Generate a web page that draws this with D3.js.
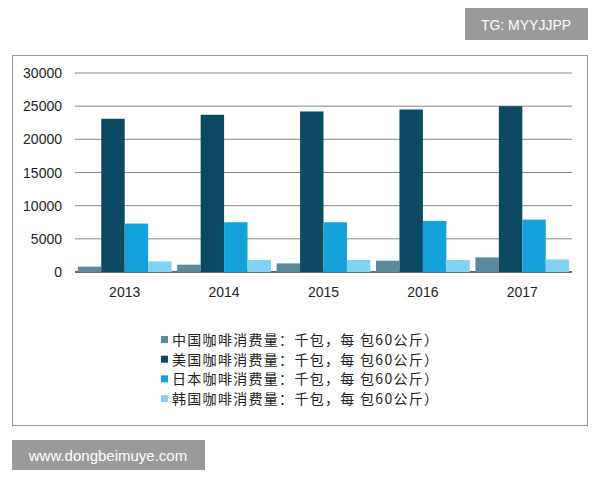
<!DOCTYPE html>
<html><head><meta charset="utf-8">
<script src="https://cdn.jsdelivr.net/npm/d3@7"></script>
<style>body{margin:0;background:#fff;font-family:"Noto Sans CJK SC","Liberation Sans",sans-serif}</style>
</head><body><div id="chart"></div>
<script>
var years = ["2013", "2014", "2015", "2016", "2017"];
var seriesNames = ["中国咖啡消费量：千包，每 包60公斤）", "美国咖啡消费量：千包，每 包60公斤）", "日本咖啡消费量：千包，每 包60公斤）", "韩国咖啡消费量：千包，每 包60公斤）"];
var china = [800, 1100, 1300, 1700, 2200];
var usa = [23100, 23700, 24200, 24500, 25000];
var japan = [7300, 7500, 7500, 7700, 7900];
var korea = [1600, 1800, 1800, 1800, 1900];
var yTicks = [0, 5000, 10000, 15000, 20000, 25000, 30000];
var colors = ["#5a8a9c", "#0c4a64", "#13a2dc", "#7fd2f0"];
var series = [china, usa, japan, korea];

var svg = d3.select("#chart").append("svg").attr("width", 600).attr("height", 480);

// outer frame
svg.append("rect").attr("x", 12.5).attr("y", 55.5).attr("width", 575).attr("height", 370)
  .attr("fill", "none").attr("stroke", "#999");

var x = d3.scaleBand().domain(years).range([75, 572]);
var x1 = d3.scaleBand().domain(d3.range(4)).range([0, x.bandwidth()]).paddingOuter(0.12);
var y = d3.scaleLinear().domain([0, 30000]).range([272, 73]);

var grid = svg.append("g");
yTicks.forEach(function(t) {
  grid.append("line").attr("x1", 75).attr("x2", 572).attr("y1", y(t)).attr("y2", y(t))
    .attr("stroke", t === 0 ? "#333" : "#888").attr("stroke-width", t === 0 ? 1.5 : 1);
  grid.append("text").attr("x", 62).attr("y", y(t) + 5).attr("text-anchor", "end")
    .attr("font-size", 14).attr("font-family", "Liberation Sans").attr("fill", "#222").text(t);
});

series.forEach(function(vals, i) {
  svg.append("g").selectAll("rect").data(vals).enter().append("rect")
    .attr("x", function(d, j) { return x(years[j]) + x1(i); })
    .attr("width", x1.bandwidth())
    .attr("y", function(d) { return y(d); })
    .attr("height", function(d) { return y(0) - y(d); })
    .attr("fill", colors[i]);
});

svg.append("g").selectAll("text").data(years).enter().append("text")
  .attr("x", function(d) { return x(d) + x.bandwidth() / 2; }).attr("y", 297)
  .attr("text-anchor", "middle").attr("font-size", 14).attr("font-family", "Liberation Sans")
  .attr("fill", "#222").text(function(d) { return d; });

var legend = svg.append("g");
seriesNames.forEach(function(n, i) {
  var ly = 340 + i * 19.7;
  legend.append("rect").attr("x", 161).attr("y", ly - 4).attr("width", 7).attr("height", 7).attr("fill", colors[i]);
  legend.append("text").attr("x", 172).attr("y", ly + 5).attr("font-size", 14)
    .attr("letter-spacing", 1.3).attr("fill", "#222").text(n);
});

// watermarks
svg.append("rect").attr("x", 465).attr("y", 8).attr("width", 123).attr("height", 32).attr("fill", "#9a9a9a");
svg.append("text").attr("x", 526).attr("y", 30).attr("text-anchor", "middle").attr("font-size", 14)
  .attr("fill", "#fff").attr("font-family", "Liberation Sans").text("TG: MYYJJPP");
svg.append("rect").attr("x", 12).attr("y", 440).attr("width", 193).attr("height", 30).attr("fill", "#9a9a9a");
svg.append("text").attr("x", 108).attr("y", 461).attr("text-anchor", "middle").attr("font-size", 15)
  .attr("fill", "#fff").attr("font-family", "Liberation Sans").text("www.dongbeimuye.com");
</script></body></html>
